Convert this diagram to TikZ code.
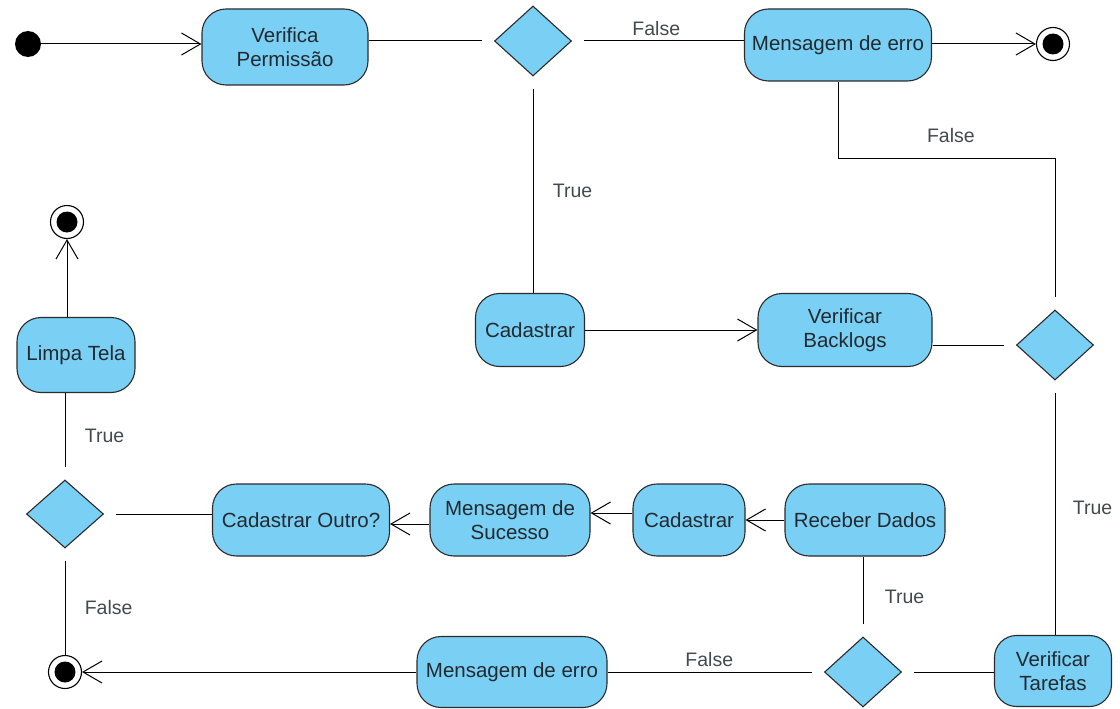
\documentclass[tikz,border=0pt]{standalone}
\usepackage{fontspec}
\setmainfont{Liberation Sans}
\usetikzlibrary{shapes.geometric,arrows.meta,calc}
\definecolor{actfill}{HTML}{7ACFF5}
\definecolor{actline}{HTML}{2B2B2B}
\definecolor{txt}{HTML}{222A30}
\begin{document}
\begin{tikzpicture}[x=1pt,y=-1pt,
  every node/.style={font=\fontsize{20.5}{24}\selectfont, text=txt},
  act/.style={draw=actline, line width=1.1pt, fill=actfill, rounded corners=24pt, align=center, inner sep=2pt},
  dec/.style={draw=actline, line width=1.1pt, fill=actfill, diamond, minimum width=77pt, minimum height=70pt, inner sep=0pt},
  startnode/.style={circle, fill=black, minimum size=26pt, inner sep=0pt},
  endnode/.style={circle, draw=black, line width=1.1pt, fill=white, minimum size=33pt, inner sep=0pt,
     path picture={\fill[black] (path picture bounding box.center) circle (10.5pt);}},
  flow/.style={draw=black, line width=1pt},
  arr/.style={flow, -{Straight Barb[length=19pt, width=22pt, line width=1pt]}},
  gapend/.style={shorten >=12pt},
  gapstart/.style={shorten <=12pt},
  lbl/.style={font=\fontsize{19.5}{23}\selectfont, text=txt!85!white}
]
\useasboundingbox (0,0) rectangle (1120,709);

% nodes
\node[startnode] (start) at (28,44) {};
\node[act, minimum width=166pt, minimum height=76pt] (vp) at (285,47) {Verifica\\Permissão};
\node[dec] (d1) at (533,41) {};
\node[act, minimum width=187pt, minimum height=72pt] (me1) at (838,45) {Mensagem de erro};
\node[endnode] (end1) at (1053,44) {};
\node[act, minimum width=109pt, minimum height=73pt] (cad1) at (530,330) {Cadastrar};
\node[act, minimum width=174pt, minimum height=73pt] (vb) at (845,330) {Verificar\\Backlogs};
\node[dec] (d2) at (1055,345) {};
\node[act, minimum width=117pt, minimum height=71pt, rounded corners=22pt] (vt) at (1053,671) {Verificar\\Tarefas};
\node[dec] (d3) at (863,672) {};
\node[act, minimum width=160pt, minimum height=72pt] (rd) at (865,520) {Receber Dados};
\node[act, minimum width=112pt, minimum height=72pt] (cad2) at (689,520) {Cadastrar};
\node[act, minimum width=160pt, minimum height=72pt] (ms) at (510,520) {Mensagem de\\Sucesso};
\node[act, minimum width=177pt, minimum height=72pt] (co) at (301,520) {Cadastrar Outro?};
\node[dec, minimum width=77pt, minimum height=68pt] (d4) at (65,514) {};
\node[act, minimum width=118pt, minimum height=75pt] (lt) at (76,355) {Limpa Tela};
\node[endnode] (end2) at (67,222) {};
\node[endnode] (end3) at (65,672) {};
\node[act, minimum width=190pt, minimum height=71pt] (me2) at (512,672) {Mensagem de erro};

% connectors
\draw[arr] (start) -- (vp.west |- start);
\draw[flow, gapend] (vp.east |- d1) -- (d1.west);
\draw[flow, gapstart] (d1.east) -- node[lbl, above=1pt, pos=0.49] {False} (me1.west |- d1);
\draw[arr] (me1.east |- end1) -- (end1);
\draw[flow, gapend] (me1.south) -- ++(0,77) -| node[lbl, pos=0.26, above=12pt] {False} (d2.north);
\draw[flow, gapstart] (d1.south) -- node[lbl, right=16pt, pos=0.53] {True} (d1.south |- cad1.north);
\draw[arr] (cad1.east) -- (vb.west);
\draw[flow, gapend] (vb.east |- d2) -- (d2.west);
\draw[flow, gapstart] (d2.south) -- node[lbl, right=14pt, pos=0.5] {True} (d2.south |- vt.north);
\draw[flow, gapend] (vt.west |- d3) -- (d3.east);
\draw[flow, gapstart] (d3.north) -- node[lbl, right=18pt, pos=0.5] {True} (d3.north |- rd.south);
\draw[arr] (rd.west) -- (cad2.east);
\draw[arr] ([yshift=7pt]cad2.west) -- ([yshift=7pt]ms.east);
\draw[arr] ([yshift=-4pt]ms.west) -- ([yshift=-4pt]co.east);
\draw[flow, gapend] (co.west |- d4) -- (d4.east);
\draw[flow, gapstart] (d4.north) -- node[lbl, right=16pt, pos=0.5] {True} (d4.north |- lt.south);
\draw[arr] (lt.north -| end2) -- (end2);
\draw[flow, gapstart] (d4.south) -- node[lbl, right=16pt, pos=0.55] {False} (end3);
\draw[arr] (me2.west |- end3) -- (end3);
\draw[flow, gapstart] (d3.west) -- node[lbl, above=1pt, pos=0.53] {False} (me2.east |- d3);
\end{tikzpicture}
\end{document}
